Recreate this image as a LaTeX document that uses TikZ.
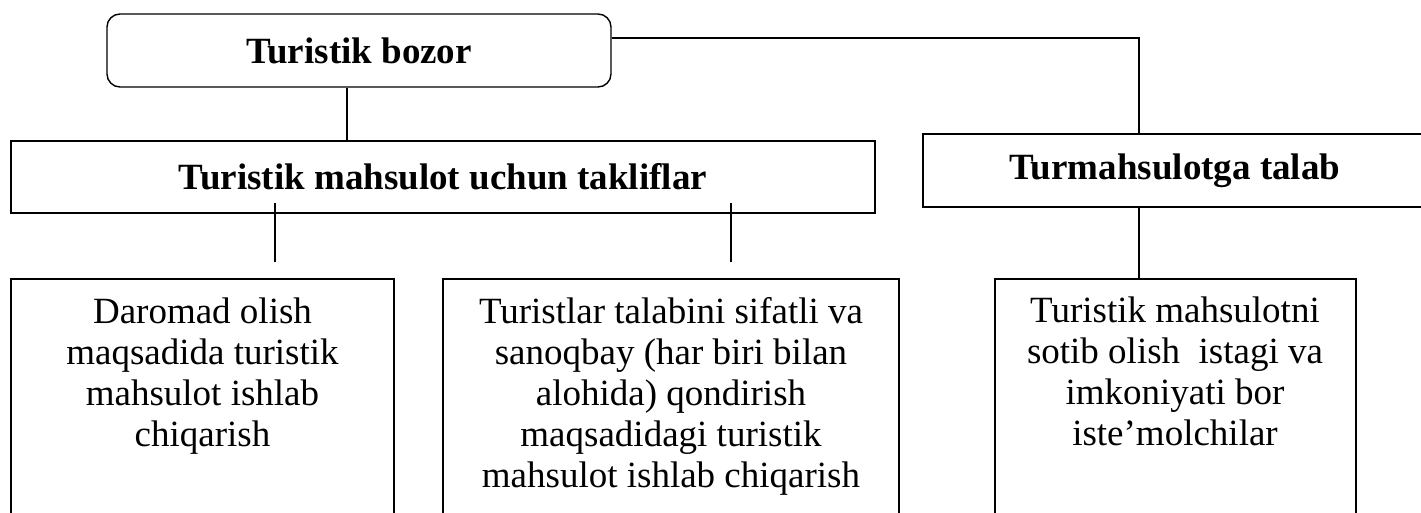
\documentclass[tikz,border=0pt]{standalone}
\usepackage{fontspec}
\setmainfont{Liberation Serif}
\usetikzlibrary{calc}
\begin{document}
\begin{tikzpicture}[x=0.5pt,y=-0.5pt,line width=0.7pt,
  box/.style={draw,inner sep=0pt},
  head/.style={font=\fontsize{18.5pt}{20.5pt}\selectfont\bfseries},
  txt/.style={inner sep=0pt,anchor=base,font=\fontsize{18.5pt}{20.5pt}\selectfont}]
\useasboundingbox (0,0) rectangle (1421,513);
\clip (0,0) rectangle (1421,513);
% header boxes
\node[box,head,rounded corners=6.5pt,minimum width=252pt,minimum height=36.5pt] (top) at (359,50.5) {Turistik bozor};
\node[box,head,minimum width=432pt,minimum height=36pt] (taklif) at (443,177) {Turistik mahsulot uchun takliflar};
\node[box,head,minimum width=252pt,minimum height=36.5pt] (talab) at (1175,170.5) {Turmahsulotga talab};
% bottom boxes (open at the bottom edge)
\node[box,minimum width=191.5pt,minimum height=125.5pt] (boxL) at (202.5,404.5) {};
\node[box,minimum width=228pt,minimum height=125.5pt] (boxM) at (671,404.5) {};
\node[box,minimum width=180.5pt,minimum height=125.5pt] (boxR) at (1175.5,404.5) {};
% texts
\node[txt] (tL) at (202.5,324) {\begin{tabular}[t]{@{}c@{}}Daromad olish\\ maqsadida turistik\\ mahsulot ishlab\\ chiqarish\end{tabular}};
\node[txt] (tM) at (671,324) {\begin{tabular}[t]{@{}c@{}}Turistlar talabini sifatli va\\ sanoqbay (har biri bilan\\ alohida) qondirish\\ maqsadidagi turistik\\ mahsulot ishlab chiqarish\end{tabular}};
\node[txt] (tR) at (1175,323) {\begin{tabular}[t]{@{}c@{}}Turistik mahsulotni\\ sotib olish\ \ istagi va\\ imkoniyati bor\\ iste’molchilar\end{tabular}};
% connectors
\coordinate (a1) at (347,0);
\coordinate (a2) at (1139,0);
\coordinate (a3) at (275,0);
\coordinate (a4) at (731,0);
\draw (top.south -| a1) -- (taklif.north -| a1);
\draw ($(top.east)+(0,-12.5)$) -| (talab.north -| a2);
\draw (talab.south -| a2) -- (boxR.north -| a2);
\draw ($(taklif.south -| a3)+(0,-11)$) -- ($(boxL.north -| a3)+(0,-16)$);
\draw ($(taklif.south -| a4)+(0,-11)$) -- ($(boxM.north -| a4)+(0,-16)$);
\end{tikzpicture}
\end{document}
